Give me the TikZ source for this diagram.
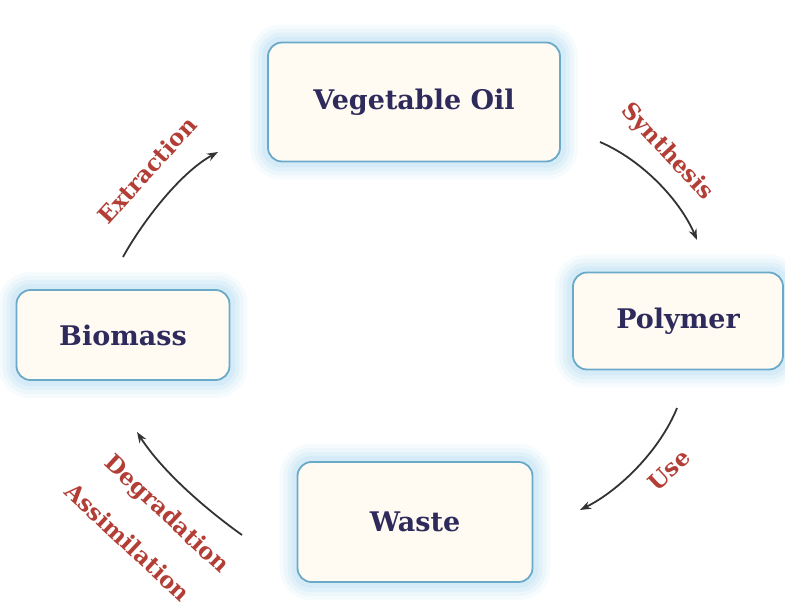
\documentclass[tikz,border=0pt]{standalone}
\usepackage{fontspec}
\setmainfont{DejaVu Serif}
\usetikzlibrary{arrows.meta,backgrounds}
\definecolor{boxline}{HTML}{6AAAC8}
\definecolor{glowc}{HTML}{B8DFF3}
\definecolor{boxfill}{HTML}{FFFBF3}
\definecolor{navy}{HTML}{2E2A5C}
\definecolor{lbl}{HTML}{B23E36}
\definecolor{arr}{HTML}{333333}
\tikzset{
  box/.style={draw=boxline, line width=1.8pt, rounded corners=14pt, fill=boxfill,
    font=\bfseries\fontsize{27}{30}\selectfont, text=navy, inner sep=0pt},
  lab/.style={font=\bfseries\fontsize{23}{26}\selectfont, text=lbl, inner sep=0pt},
  cyc/.style={draw=arr, line width=1.8pt, -{Stealth[length=11pt,width=8pt]}},
  glow/.style={draw=glowc, rounded corners=14pt}
}
\begin{document}
\begin{tikzpicture}[x=1pt,y=-1pt]
\useasboundingbox (0,0) rectangle (785,608);
\node[box, minimum width=292pt, minimum height=119pt] (veg) at (414,102) {Vegetable Oil};
\node[box, minimum width=210pt, minimum height=97pt] (poly) at (678,321) {Polymer};
\node[box, minimum width=213pt, minimum height=90pt] (bio) at (123,335) {Biomass};
\node[box, minimum width=235pt, minimum height=120pt] (waste) at (415,522) {Waste};
\begin{pgfonlayer}{background}
\fill[white] (0,0) rectangle (785,608);
\foreach \n in {veg,poly,bio,waste}{
  \foreach \w/\o in {34/0.12,26/0.16,18/0.2,10/0.28}{
    \draw[glow, line width=\w pt, opacity=\o] (\n.north west) rectangle (\n.south east);
  }
}
\end{pgfonlayer}
% arrow end points
\coordinate (e1) at (123,257); \coordinate (e2) at (218,152);
\coordinate (s1) at (600,142); \coordinate (s2) at (697,240);
\coordinate (u1) at (677,408); \coordinate (u2) at (580,510);
\coordinate (d1) at (242,535); \coordinate (d2) at (137,432);
\draw[cyc] (e1) .. controls (140,226) and (178,174) .. (e2);
\draw[cyc] (s1) .. controls (642,160) and (680,200) .. (s2);
\draw[cyc] (u1) .. controls (660,450) and (620,490) .. (u2);
\draw[cyc] (d1) .. controls (200,505) and (160,468) .. (d2);
% labels
\node[lab, rotate=48] (lx) at (147,170) {Extraction};
\node[lab, rotate=-47] (ls) at (667,152) {Synthesis};
\node[lab, rotate=43] (lu) at (669,470) {Use};
\node[lab, rotate=-43] (ld) at (166,515) {Degradation};
\node[lab, rotate=-43] (la) at (128,542) {Assimilation};
\end{tikzpicture}
\end{document}
